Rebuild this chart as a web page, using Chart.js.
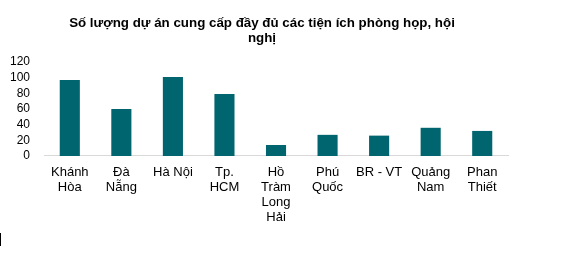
<!DOCTYPE html>
<html>
<head>
<meta charset="utf-8">
<script src="https://cdn.jsdelivr.net/npm/chart.js@4.4.1/dist/chart.umd.min.js"></script>
<style>
  html, body { margin: 0; padding: 0; background: #fff; }
  #wrap { position: relative; width: 569px; height: 257px; overflow: hidden; }
  #title {
    position: absolute; top: 15px; left: 62px; width: 400px;
    text-align: center; font-family: 'Liberation Sans', Arial, sans-serif;
    font-weight: bold; font-size: 13.33px; line-height: 15px; color: #000;
  }
  #mark { position: absolute; left: 0; top: 233px; width: 1px; height: 13px; background: #000; }
  canvas { position: absolute; left: 0; top: 0; }
</style>
</head>
<body>
<div id="wrap">
  <canvas id="c" width="569" height="257"></canvas>
  <div id="title">Số lượng dự án cung cấp đầy đủ các tiện ích phòng họp, hội<br>nghị</div>
  <div id="mark"></div>
</div>
<script>
const categories = [
  ["Khánh", "Hòa"],
  ["Đà", "Nẵng"],
  "Hà Nội",
  ["Tp.", "HCM"],
  ["Hồ", "Tràm", "Long", "Hải"],
  ["Phú", "Quốc"],
  "BR - VT",
  ["Quảng", "Nam"],
  ["Phan", "Thiết"]
];
const projectCounts = [97, 60, 101, 79, 14, 27, 26, 36, 32];
const yTicks = { min: 0, max: 120, step: 20 };

new Chart(document.getElementById('c'), {
  type: 'bar',
  data: {
    labels: categories,
    datasets: [{
      data: projectCounts,
      backgroundColor: '#00656E',
      borderWidth: 0,
      barPercentage: 1,
      categoryPercentage: 0.39
    }]
  },
  options: {
    responsive: false,
    animation: false,
    devicePixelRatio: 1,
    layout: { padding: { top: 62, left: -4, right: 61, bottom: 23 } },
    plugins: { legend: { display: false }, title: { display: false }, tooltip: { enabled: false } },
    scales: {
      x: {
        grid: { display: true, drawOnChartArea: false, drawTicks: false },
        border: { display: true, color: '#d9d9d9', width: 1 },
        ticks: {
          color: '#000', padding: 9, maxRotation: 0, autoSkip: false,
          font: { family: "'Liberation Sans', Arial, sans-serif", size: 13, lineHeight: 1.154 }
        }
      },
      y: {
        min: yTicks.min, max: yTicks.max,
        grid: { display: false, drawTicks: false },
        border: { display: false },
        ticks: {
          stepSize: yTicks.step, color: '#000', padding: 14, autoSkip: false,
          font: { family: "'Liberation Sans', Arial, sans-serif", size: 12 }
        }
      }
    }
  }
});
</script>
</body>
</html>
